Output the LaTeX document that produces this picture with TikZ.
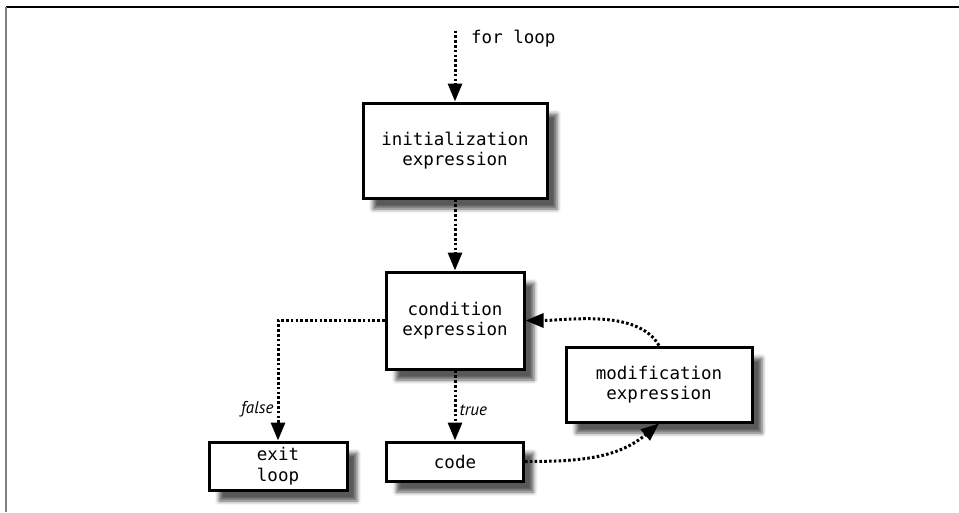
\documentclass[tikz,border=0pt]{standalone}
\usepackage{fontspec}
\setmonofont{DejaVu Sans Mono}
\newfontfamily\labelfont{PT Sans}
\usetikzlibrary{positioning,arrows.meta,shadows.blur}

\begin{document}
\begin{tikzpicture}[
  x=1pt, y=1pt,
  font=\ttfamily\fontsize{17.5}{20.5}\selectfont,
  stage/.style={draw, line width=3pt, fill=white, align=center, inner sep=0pt,
                blur shadow={shadow xshift=10pt, shadow yshift=-11pt,
                             shadow blur radius=4pt, shadow opacity=65}},
  flow/.style={line width=3pt, dash pattern=on 2.6pt off 2.2pt,
               -{Triangle[length=18pt,width=14pt]}},
  branch/.style={font=\labelfont\itshape\fontsize{17}{19}\selectfont, inner sep=3pt}
]
\useasboundingbox (0,0) rectangle (959,-512);
% frame
\draw[line width=2pt] (6,-7) -- (959,-7);
\draw[gray, line width=1.5pt] (6,-7) -- (6,-512);

\node[stage, minimum width=184pt, minimum height=95pt] (init) at (455,-150.5) {initialization\\expression};
\node[stage, minimum width=138pt, minimum height=97pt, below=71pt of init] (test) {condition\\expression};
\node[stage, minimum width=137pt, minimum height=39pt, below=70pt of test] (body) {code};
\node[stage, minimum width=138pt, minimum height=48pt, below=70pt of test, xshift=-177pt] (exit) {exit\\loop};
\node[stage, minimum width=186pt, minimum height=75pt, right=39pt of test, yshift=-64pt] (update) {modification\\expression};

\coordinate[above=71pt of init.north] (entry);
\node[inner sep=0pt, right=16pt of entry, yshift=-8pt] (title) {for loop};

\draw[flow] (entry) -- (init);
\draw[flow] (init) -- (test);
\draw[flow] (test.west) -| node[branch, pos=0.87, left] {false} (exit.north);
\draw[flow] (test) -- node[branch, pos=0.57, right] {true} (body);
\draw[flow] (body.east) to[out=0, in=220] (update.south);
\draw[flow] (update.north) to[out=120, in=0, looseness=0.8] (test.east);
\end{tikzpicture}
\end{document}
